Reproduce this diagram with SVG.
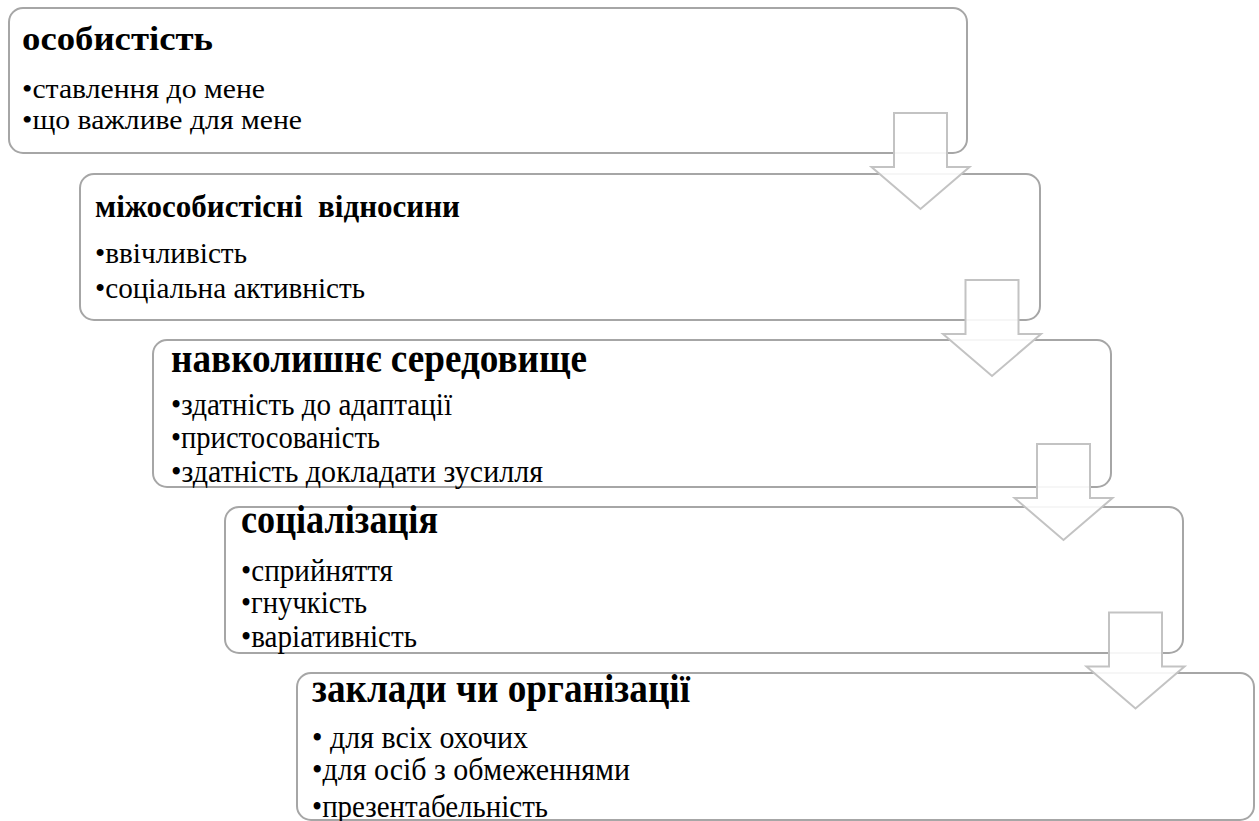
<svg xmlns="http://www.w3.org/2000/svg" width="1259" height="821" viewBox="0 0 1259 821">
<style>
.box{fill:#ffffff;stroke:#a6a6a6;stroke-width:2}
.arr{fill:#ffffff;fill-opacity:0.9;stroke:#c3c3c3;stroke-width:2;stroke-linejoin:miter}
.t{font-family:"Liberation Serif","Times New Roman",serif;font-weight:bold;fill:#000}
.b{font-family:"Liberation Serif","Times New Roman",serif;fill:#000}
</style>
<rect width="1259" height="821" fill="#ffffff"/>
<g id="node1">
<rect class="box" x="9" y="8" width="958" height="145" rx="14"/>
<text class="t" x="22" y="50" font-size="33" textLength="191" lengthAdjust="spacingAndGlyphs">особистість</text>
<text class="b" x="22" y="98" font-size="28" textLength="243" lengthAdjust="spacingAndGlyphs">•ставлення до мене</text>
<text class="b" x="22" y="129" font-size="28" textLength="280" lengthAdjust="spacingAndGlyphs">•що важливе для мене</text>
</g>
<g id="node2">
<rect class="box" x="80" y="174" width="960" height="146" rx="14"/>
<text class="t" x="95" y="217" font-size="31" textLength="365" lengthAdjust="spacingAndGlyphs" xml:space="preserve">міжособистісні  відносини</text>
<text class="b" x="95" y="263" font-size="29" textLength="152" lengthAdjust="spacingAndGlyphs">•ввічливість</text>
<text class="b" x="95" y="298" font-size="29" textLength="270" lengthAdjust="spacingAndGlyphs">•соціальна активність</text>
</g>
<g id="node3">
<rect class="box" x="153" y="340" width="958" height="147" rx="14"/>
<text class="t" x="171" y="372" font-size="39" textLength="416" lengthAdjust="spacingAndGlyphs">навколишнє середовище</text>
<text class="b" x="171" y="415" font-size="31" textLength="281" lengthAdjust="spacingAndGlyphs">•здатність до адаптації</text>
<text class="b" x="171" y="448" font-size="31" textLength="209" lengthAdjust="spacingAndGlyphs">•пристосованість</text>
<text class="b" x="171" y="482" font-size="31" textLength="372" lengthAdjust="spacingAndGlyphs">•здатність докладати зусилля</text>
</g>
<g id="node4">
<rect class="box" x="225" y="507" width="958" height="146" rx="14"/>
<text class="t" x="241" y="533" font-size="39" textLength="197" lengthAdjust="spacingAndGlyphs">соціалізація</text>
<text class="b" x="241" y="581" font-size="31" textLength="152" lengthAdjust="spacingAndGlyphs">•сприйняття</text>
<text class="b" x="241" y="613" font-size="31" textLength="126" lengthAdjust="spacingAndGlyphs">•гнучкість</text>
<text class="b" x="241" y="647" font-size="31" textLength="176" lengthAdjust="spacingAndGlyphs">•варіативність</text>
</g>
<g id="node5">
<rect class="box" x="297" y="673" width="957" height="147" rx="14"/>
<text class="t" x="312" y="702" font-size="39" textLength="378" lengthAdjust="spacingAndGlyphs">заклади чи організації</text>
<text class="b" x="312" y="748" font-size="31" textLength="216" lengthAdjust="spacingAndGlyphs">• для всіх охочих</text>
<text class="b" x="312" y="780" font-size="31" textLength="318" lengthAdjust="spacingAndGlyphs">•для осіб з обмеженнями</text>
<text class="b" x="312" y="817" font-size="31" textLength="236" lengthAdjust="spacingAndGlyphs">•презентабельність</text>
</g>
<g id="connectors">
<path class="arr" d="M894,113 H947 V167 H969.5 L920.5,209 L871.5,167 H894 Z"/>
<path class="arr" d="M965.5,280 H1018.5 V334 H1041 L992,376 L943,334 H965.5 Z"/>
<path class="arr" d="M1037,444 H1090 V498 H1112.5 L1063.5,540 L1014.5,498 H1037 Z"/>
<path class="arr" d="M1109,612.5 H1162 V666.5 H1184.5 L1135.5,708.5 L1086.5,666.5 H1109 Z"/>
</g>
</svg>
